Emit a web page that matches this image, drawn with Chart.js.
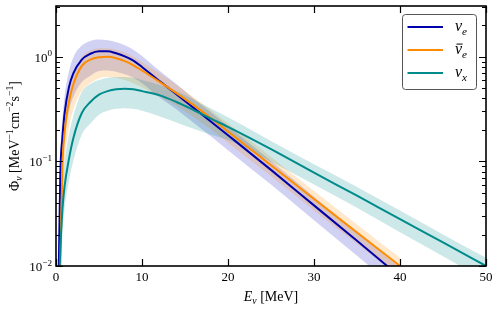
<!DOCTYPE html>
<html>
<head>
<meta charset="utf-8">
<script src="https://cdn.jsdelivr.net/npm/chart.js@4.4.1/dist/chart.umd.min.js"></script>
<style>
  html, body { margin: 0; padding: 0; background: #fff; }
  #wrap { width: 498px; height: 309px; position: relative; }
</style>
</head>
<body>
<div id="wrap"><canvas id="fluxChart" width="498" height="309"></canvas></div>
<script>
// energies (MeV) used for the curves
const energy = [0.3, 0.5, 0.75, 1, 1.5, 2, 3, 4, 5, 6, 7, 8, 9, 10, 12, 14, 16, 18, 20, 25, 30, 35, 40];
const energyX = [0.3, 0.5, 0.75, 1, 1.5, 2, 3, 4, 5, 6, 7, 8, 9, 10, 12, 14, 16, 18, 20, 25, 30, 35, 40, 45, 50];

// nu_e
const nueFlux  = [0.007, 0.075, 0.17, 0.29, 0.51, 0.69, 0.94, 1.07, 1.13, 1.13, 1.08, 1.01, 0.92, 0.80, 0.59, 0.44, 0.325, 0.241, 0.178, 0.083, 0.038, 0.0174, 0.0079];
const nueUpper = [0.012, 0.11, 0.25, 0.42, 0.72, 0.98, 1.28, 1.42, 1.46, 1.44, 1.38, 1.29, 1.17, 1.02, 0.74, 0.55, 0.40, 0.295, 0.217, 0.101, 0.046, 0.021, 0.0096];
const nueLower = [0.003, 0.035, 0.09, 0.16, 0.30, 0.41, 0.57, 0.66, 0.73, 0.74, 0.72, 0.68, 0.63, 0.56, 0.41, 0.315, 0.234, 0.174, 0.128, 0.06, 0.0274, 0.0125, 0.0057];

// anti nu_e
const nuebFlux  = [0.002, 0.01, 0.09, 0.19, 0.37, 0.54, 0.82, 0.94, 0.99, 1.0, 0.97, 0.91, 0.83, 0.74, 0.58, 0.45, 0.345, 0.26, 0.193, 0.092, 0.0437, 0.0209, 0.01];
const nuebUpper = [0.004, 0.02, 0.13, 0.26, 0.48, 0.68, 1.0, 1.15, 1.21, 1.21, 1.17, 1.1, 1.0, 0.89, 0.70, 0.54, 0.41, 0.31, 0.231, 0.11, 0.052, 0.025, 0.012];
const nuebLower = [0.001, 0.005, 0.045, 0.10, 0.21, 0.31, 0.47, 0.56, 0.62, 0.64, 0.63, 0.60, 0.56, 0.51, 0.42, 0.34, 0.265, 0.203, 0.15, 0.072, 0.034, 0.0163, 0.0078];

// nu_x
const nuxFlux  = [0.005, 0.014, 0.035, 0.058, 0.105, 0.165, 0.29, 0.37, 0.435, 0.47, 0.49, 0.495, 0.49, 0.47, 0.43, 0.37, 0.31, 0.257, 0.214, 0.131, 0.078, 0.047, 0.028, 0.0168, 0.01];
const nuxUpper = [0.01, 0.028, 0.062, 0.10, 0.18, 0.27, 0.46, 0.55, 0.60, 0.63, 0.64, 0.64, 0.63, 0.60, 0.54, 0.47, 0.39, 0.32, 0.265, 0.157, 0.094, 0.057, 0.034, 0.02, 0.012];
const nuxLower = [0.002, 0.007, 0.02, 0.035, 0.065, 0.10, 0.18, 0.23, 0.28, 0.305, 0.318, 0.322, 0.318, 0.305, 0.27, 0.235, 0.205, 0.18, 0.16, 0.10, 0.06, 0.036, 0.021, 0.0124, 0.0072];

const xTicks = [0, 10, 20, 30, 40, 50];
const yDecades = [-2, -1, 0];

const FONT = '"Liberation Serif", "DejaVu Serif", serif';
const C_NUE = '#0000aa';
const C_NUEB = '#ff8c00';
const C_NUX = '#008b8b';

function toXY(xs, ys) { return xs.map((x, i) => ({ x: x, y: ys[i] })); }

function band(xs, up, lo, color, order) {
    return [
        { data: toXY(xs, up), borderWidth: 0, pointRadius: 0, fill: '+1', backgroundColor: color, order: order, cubicInterpolationMode: 'monotone' },
        { data: toXY(xs, lo), borderWidth: 0, pointRadius: 0, fill: false, order: order, cubicInterpolationMode: 'monotone' }
    ];
}

function line(xs, ys, color, order) {
    return { data: toXY(xs, ys), borderColor: color, borderWidth: 2, pointRadius: 0, fill: false, order: order, cubicInterpolationMode: 'monotone' };
}

// draw text pieces with super/subscripts
function drawRich(ctx, parts, x, y, align, size) {
    const pieces = parts.map(p => {
        const s = p.pos ? size * 0.7 : size;
        const f = (p.it ? 'italic ' : '') + s + 'px ' + FONT;
        ctx.font = f;
        return { t: p.t, f: f, w: ctx.measureText(p.t).width, dy: p.pos === 'sup' ? -size * 0.42 : (p.pos === 'sub' ? size * 0.22 : 0), bar: p.bar };
    });
    const total = pieces.reduce((s, p) => s + p.w, 0);
    let cx = align === 'center' ? x - total / 2 : (align === 'right' ? x - total : x);
    ctx.textAlign = 'left';
    ctx.textBaseline = 'alphabetic';
    pieces.forEach(p => {
        ctx.font = p.f;
        ctx.fillText(p.t, cx, y + p.dy);
        if (p.bar) {
            ctx.save();
            ctx.lineWidth = 1;
            ctx.beginPath();
            ctx.moveTo(cx + 1.5, y - size * 0.62);
            ctx.lineTo(cx + p.w + 0.5, y - size * 0.62);
            ctx.strokeStyle = ctx.fillStyle;
            ctx.stroke();
            ctx.restore();
        }
        cx += p.w;
    });
}

const decorations = {
    id: 'decorations',
    afterDraw(chart) {
        const ctx = chart.ctx;
        const a = chart.chartArea;
        const xs = chart.scales.x, ys = chart.scales.y;
        ctx.save();
        ctx.strokeStyle = '#000';
        ctx.fillStyle = '#000';

        // ticks (inward, all sides)
        ctx.lineWidth = 1.2;
        ctx.beginPath();
        xTicks.forEach(v => {
            const px = Math.round(xs.getPixelForValue(v)) + 0.5;
            ctx.moveTo(px, a.bottom); ctx.lineTo(px, a.bottom - 7);
            ctx.moveTo(px, a.top); ctx.lineTo(px, a.top + 7);
        });
        yDecades.forEach(d => {
            for (let m = 1; m <= 9; m++) {
                const v = m * Math.pow(10, d);
                if (v > ys.max) continue;
                const py = Math.round(ys.getPixelForValue(v)) + 0.5;
                const len = m === 1 ? 7 : 4;
                ctx.moveTo(a.left, py); ctx.lineTo(a.left + len, py);
                ctx.moveTo(a.right, py); ctx.lineTo(a.right - len, py);
            }
        });
        for (let m = 2; m <= 9; m++) {
            const v = m;
            if (v > ys.max) continue;
            const py = Math.round(ys.getPixelForValue(v)) + 0.5;
            ctx.moveTo(a.left, py); ctx.lineTo(a.left + 4, py);
            ctx.moveTo(a.right, py); ctx.lineTo(a.right - 4, py);
        }
        ctx.stroke();

        // frame
        ctx.lineWidth = 1.6;
        ctx.strokeRect(a.left, a.top, a.right - a.left, a.bottom - a.top);

        // tick labels
        xTicks.forEach(v => {
            drawRich(ctx, [{ t: String(v) }], xs.getPixelForValue(v), a.bottom + 15, 'center', 13);
        });
        yDecades.forEach(d => {
            const py = ys.getPixelForValue(Math.pow(10, d));
            drawRich(ctx, [{ t: '10' }, { t: d === 0 ? '0' : '\u2212' + (-d), pos: 'sup' }], a.left - 4, py + 5, 'right', 13);
        });

        // axis titles
        drawRich(ctx, [{ t: 'E', it: true }, { t: '\u03bd', it: true, pos: 'sub' }, { t: ' [MeV]' }], (a.left + a.right) / 2, 301, 'center', 14);
        ctx.save();
        ctx.translate(19, (a.top + a.bottom) / 2);
        ctx.rotate(-Math.PI / 2);
        drawRich(ctx, [
            { t: '\u03a6' }, { t: '\u03bd', it: true, pos: 'sub' }, { t: ' [MeV' }, { t: '\u22121', pos: 'sup' },
            { t: 'cm' }, { t: '\u22122', pos: 'sup' }, { t: 's' }, { t: '\u22121', pos: 'sup' }, { t: ']' }
        ], 0, 0, 'center', 14);
        ctx.restore();

        // legend
        const lx = 402.5, ly = 14.5, lw = 74, lh = 75;
        ctx.beginPath();
        ctx.roundRect(lx, ly, lw, lh, 3);
        ctx.fillStyle = 'rgba(255,255,255,0.85)';
        ctx.fill();
        ctx.strokeStyle = '#555';
        ctx.lineWidth = 1;
        ctx.stroke();
        const entries = [
            { c: C_NUE, parts: [{ t: '\u03bd', it: true }, { t: 'e', it: true, pos: 'sub' }] },
            { c: C_NUEB, parts: [{ t: '\u03bd', it: true, bar: true }, { t: 'e', it: true, pos: 'sub' }] },
            { c: C_NUX, parts: [{ t: '\u03bd', it: true }, { t: 'x', it: true, pos: 'sub' }] }
        ];
        entries.forEach((e, i) => {
            const yy = 27 + i * 23;
            ctx.strokeStyle = e.c;
            ctx.lineWidth = 2.2;
            ctx.beginPath();
            ctx.moveTo(407.5, yy); ctx.lineTo(443, yy);
            ctx.stroke();
            ctx.fillStyle = '#000';
            drawRich(ctx, [...e.parts], 455, yy + 4, 'left', 16);
        });
        ctx.restore();
    }
};

const datasets = [
    line(energyX, nuxFlux, C_NUX, 1),
    line(energy, nuebFlux, C_NUEB, 2),
    line(energy, nueFlux, C_NUE, 3),
    ...band(energyX, nuxUpper, nuxLower, 'rgba(0,139,139,0.2)', 10),
    ...band(energy, nuebUpper, nuebLower, 'rgba(255,140,0,0.2)', 11),
    ...band(energy, nueUpper, nueLower, 'rgba(70,70,210,0.25)', 12)
];

new Chart(document.getElementById('fluxChart').getContext('2d'), {
    type: 'line',
    data: { datasets },
    options: {
        responsive: false,
        animation: false,
        events: [],
        layout: { padding: { left: 56, right: 12, top: 6, bottom: 43 } },
        plugins: { legend: { display: false }, tooltip: { enabled: false } },
        scales: {
            x: { type: 'linear', min: 0, max: 50, display: false },
            y: { type: 'logarithmic', min: 0.01, max: 3.06, display: false }
        }
    },
    plugins: [decorations]
});
</script>
</body>
</html>
